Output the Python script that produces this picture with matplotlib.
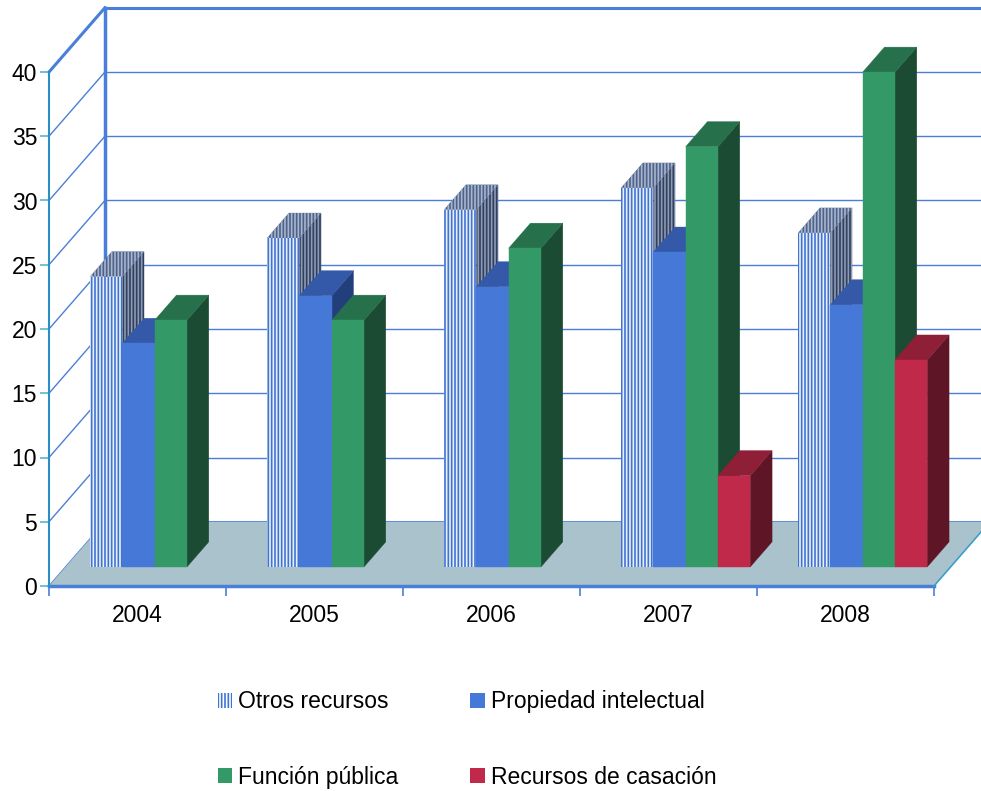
import numpy as np
import matplotlib
matplotlib.use('Agg')
import matplotlib.pyplot as plt
from matplotlib.patches import Polygon, Patch

plt.rcParams['font.family'] = ['Liberation Sans', 'DejaVu Sans']
plt.rcParams['hatch.linewidth'] = 1.2

# values
years = ['2004', '2005', '2006', '2007', '2008']
otros = [22.6, 25.6, 27.8, 29.5, 26.0]
propiedad = [17.4, 21.1, 21.8, 24.5, 20.4]
funcion = [19.2, 19.2, 24.8, 32.7, 38.5]
casacion = [np.nan, np.nan, np.nan, 7.1, 16.1]
series_names = ['Otros recursos', 'Propiedad intelectual', 'Función pública', 'Recursos de casación']
series = [otros, propiedad, funcion, casacion]

# face colours: front / top / side (+ hatch colours for the striped series)
styles = [
    dict(front='#EAF0FA', top='#4E6189', side='#2F3F60', hatch='|||||',
         hfront='#3F74D4', htop='#A8B6CE', hside='#8E9AB2'),
    dict(front='#4678D8', top='#3359A8', side='#223F7C', hatch=None),
    dict(front='#339966', top='#26714B', side='#1C4B33', hatch=None),
    dict(front='#C0294A', top='#8E1F37', side='#5E1526', hatch=None),
]

GRID = '#4A7FD9'
FLOOR = '#AAC2CC'
AXC = '#2A8FC0'

# oblique depth of the box (data units) and where the bars sit in it
DX, DY = 0.316, 5.0
Z0, ZD = 0.297, 0.39
OFF0, BW = 0.138, 0.1825
NCAT = len(years)


def proj(x, y, z):
    return (x + z * DX, y + z * DY)


def face(ax, pts, fc, hatch=None, hc=None, zorder=3):
    p = Polygon([proj(*q) for q in pts], closed=True, facecolor=fc,
                edgecolor=hc if hatch else fc, linewidth=0 if hatch else 0.3,
                hatch=hatch, clip_on=False, zorder=zorder)
    ax.add_patch(p)


fig = plt.figure(figsize=(9.81, 7.91), dpi=100)
ax = fig.add_axes([49 / 981, (791 - 586) / 791, 885 / 981, 514 / 791])
ax.set_xlim(0, NCAT)
ax.set_ylim(0, 40)

# walls and gridlines
for v in range(0, 41, 5):
    lw = 2.2 if v in (0, 40) else 1.0
    x0, y0 = proj(0, v, 1)
    x1, y1 = proj(NCAT, v, 1)
    ax.plot([x0, x1], [y0, y1], color=GRID, lw=lw, clip_on=False, zorder=1)
    a, b = proj(0, v, 0)
    c, d = proj(0, v, 1)
    ax.plot([a, c], [b, d], color=GRID, lw=2.2 if v == 40 else 1.0,
            clip_on=False, zorder=1)
bx, by0 = proj(0, 0, 1)
_, by1 = proj(0, 40, 1)
ax.plot([bx, bx], [by0, by1], color=GRID, lw=2.5, clip_on=False, zorder=1)

# floor
floor = Polygon([proj(0, 0, 0), proj(NCAT, 0, 0), proj(NCAT, 0, 1), proj(0, 0, 1)],
                closed=True, facecolor=FLOOR, edgecolor='none', clip_on=False, zorder=1.5)
ax.add_patch(floor)
ax.plot([0, NCAT], [0, 0], color=GRID, lw=2.5, clip_on=False, zorder=2)
xa, ya = proj(NCAT, 0, 1)
ax.plot([NCAT, xa], [0, ya], color='#3AA0C8', lw=1.2, clip_on=False, zorder=2)

# bars, left to right so nearer faces cover the side faces
for i in range(NCAT):
    for k, vals in enumerate(series):
        v = vals[i]
        if np.isnan(v):
            continue
        st = styles[k]
        x0 = i + OFF0 + k * BW
        x1 = x0 + BW
        z1 = Z0 + ZD
        zo = 3 + i * 0.1 + k * 0.01
        face(ax, [(x1, 0, Z0), (x1, 0, z1), (x1, v, z1), (x1, v, Z0)],
             st['side'], st['hatch'], st.get('hside'), zo)
        face(ax, [(x0, v, Z0), (x1, v, Z0), (x1, v, z1), (x0, v, z1)],
             st['top'], st['hatch'], st.get('htop'), zo)
        face(ax, [(x0, 0, Z0), (x1, 0, Z0), (x1, v, Z0), (x0, v, Z0)],
             st['front'], st['hatch'], st.get('hfront'), zo)

# axes decoration
for s in ['top', 'right', 'bottom']:
    ax.spines[s].set_visible(False)
ax.spines['left'].set_color(AXC)
ax.spines['left'].set_linewidth(1.5)
ax.spines['left'].set_zorder(2)
ax.set_yticks(range(0, 41, 5))
ax.tick_params(axis='y', length=6.5, width=1.2, color='#5AB4D0', labelsize=16.5, pad=2)
ax.set_xticks(range(NCAT + 1))
ax.set_xticklabels([])
ax.set_xticks(np.arange(NCAT) + 0.5, minor=True)
ax.set_xticklabels(years, minor=True)
ax.tick_params(axis='x', which='major', length=7, width=1.2, color=GRID)
ax.tick_params(axis='x', which='minor', length=0, labelsize=16.5, pad=13)
ax.set_facecolor('none')

# legend
handles = []
for st in styles:
    if st['hatch']:
        handles.append(Patch(facecolor='white', edgecolor=st['hfront'], hatch=st['hatch'], linewidth=0))
    else:
        handles.append(Patch(facecolor=st['front'], edgecolor='none'))
order = [0, 2, 1, 3]
fig.legend([handles[j] for j in order], [series_names[j] for j in order],
           ncol=2, loc='center', bbox_to_anchor=(0.4760, 0.0650), frameon=False,
           fontsize=16.5, handlelength=0.63, handleheight=0.63, handletextpad=0.25,
           columnspacing=3.15, labelspacing=2.3)

fig.savefig('out.png', dpi=100)
